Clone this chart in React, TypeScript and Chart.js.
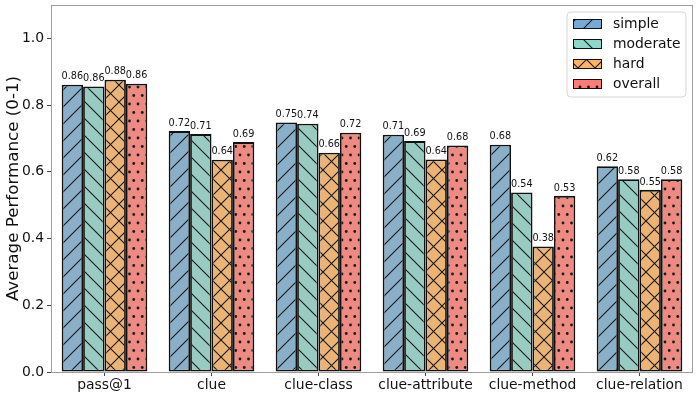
import React, { useEffect, useRef } from 'react';
import { Chart, registerables } from 'chart.js';

Chart.register(...registerables);

const categories = ['pass@1', 'clue', 'clue-class', 'clue-attribute', 'clue-method', 'clue-relation'];
const seriesNames = ['simple', 'moderate', 'hard', 'overall'];
const simple = [0.861, 0.722, 0.748, 0.711, 0.681, 0.617];
const moderate = [0.856, 0.713, 0.744, 0.692, 0.538, 0.578];
const hard = [0.876, 0.636, 0.657, 0.637, 0.376, 0.546];
const overall = [0.864, 0.689, 0.717, 0.679, 0.528, 0.578];
const yTickValues = [0, 0.2, 0.4, 0.6, 0.8, 1.0];

const barColors = ['#8aafc9', '#98cbc2', '#ecb474', '#ed8a82'];
const legendColors = ['#76aad6', '#8dd8cb', '#ffb366', '#ff7c75'];
const hatchKinds = ['/', '\\', 'x', '.'];

const FONT = 'DejaVu Sans';

function makePattern(color: string, kind: string): CanvasPattern | string {
  const s = 17;
  const c = document.createElement('canvas');
  c.width = s;
  c.height = s;
  const g = c.getContext('2d');
  if (!g) return color;
  g.fillStyle = color;
  g.fillRect(0, 0, s, s);
  g.strokeStyle = '#1a1a1a';
  g.fillStyle = '#1a1a1a';
  g.lineWidth = 1.1;
  const fwd = () => {
    g.beginPath();
    g.moveTo(-2, s + 2); g.lineTo(s + 2, -2);
    g.moveTo(-2, 2); g.lineTo(2, -2);
    g.moveTo(s - 2, s + 2); g.lineTo(s + 2, s - 2);
    g.stroke();
  };
  const back = () => {
    g.beginPath();
    g.moveTo(-2, -2); g.lineTo(s + 2, s + 2);
    g.moveTo(s - 2, -2); g.lineTo(s + 2, 2);
    g.moveTo(-2, s - 2); g.lineTo(2, s + 2);
    g.stroke();
  };
  if (kind === '/') fwd();
  else if (kind === '\\') back();
  else if (kind === 'x') { fwd(); back(); }
  else if (kind === '.') {
    const pts = [[2, 2], [10.5, 2], [6.25, 10.5], [14.75, 10.5]];
    for (const [x, y] of pts) {
      g.beginPath();
      g.arc(x, y, 1.4, 0, Math.PI * 2);
      g.fill();
    }
  }
  const p = g.createPattern(c, 'repeat');
  return p || color;
}

export default function App() {
  const ref = useRef<HTMLCanvasElement | null>(null);

  useEffect(() => {
    if (!ref.current) return;
    Chart.defaults.font.family = FONT;
    const seriesData = [simple, moderate, hard, overall];
    const barPatterns = barColors.map((c, i) => makePattern(c, hatchKinds[i]));
    const legendPatterns = legendColors.map((c, i) => makePattern(c, hatchKinds[i]));

    const framePlugin = {
      id: 'frame',
      afterDatasetsDraw(chart: any) {
        const { ctx, chartArea: a } = chart;
        ctx.save();
        ctx.strokeStyle = '#9e9e9e';
        ctx.lineWidth = 1;
        ctx.strokeRect(Math.round(a.left) + 0.5, Math.round(a.top) + 0.5, Math.round(a.right - a.left) - 1, Math.round(a.bottom - a.top));
        ctx.restore();
      },
    };

    const labelPlugin = {
      id: 'valueLabels',
      afterDatasetsDraw(chart: any) {
        const ctx = chart.ctx;
        ctx.save();
        ctx.font = `9.7px "${FONT}"`;
        ctx.fillStyle = '#111';
        ctx.textAlign = 'center';
        ctx.textBaseline = 'bottom';
        chart.data.datasets.forEach((ds: any, di: number) => {
          const meta = chart.getDatasetMeta(di);
          meta.data.forEach((el: any, i: number) => {
            ctx.fillText(Number(ds.data[i]).toFixed(2), el.x, el.y - 3);
          });
        });
        ctx.restore();
      },
    };

    const legendPlugin = {
      id: 'customLegend',
      afterDraw(chart: any) {
        const { ctx, chartArea: a } = chart;
        ctx.save();
        const w = 119, h = 85;
        const x0 = a.right - w - 7;
        const y0 = a.top + 7;
        const r = 4;
        ctx.beginPath();
        ctx.moveTo(x0 + r, y0);
        ctx.lineTo(x0 + w - r, y0);
        ctx.quadraticCurveTo(x0 + w, y0, x0 + w, y0 + r);
        ctx.lineTo(x0 + w, y0 + h - r);
        ctx.quadraticCurveTo(x0 + w, y0 + h, x0 + w - r, y0 + h);
        ctx.lineTo(x0 + r, y0 + h);
        ctx.quadraticCurveTo(x0, y0 + h, x0, y0 + h - r);
        ctx.lineTo(x0, y0 + r);
        ctx.quadraticCurveTo(x0, y0, x0 + r, y0);
        ctx.closePath();
        ctx.fillStyle = 'rgba(255,255,255,0.85)';
        ctx.fill();
        ctx.strokeStyle = '#d6d6d6';
        ctx.lineWidth = 1;
        ctx.stroke();
        seriesNames.forEach((name, i) => {
          const sy = y0 + 7 + i * 20;
          const sx = x0 + 6;
          ctx.fillStyle = legendPatterns[i] as any;
          ctx.fillRect(sx, sy, 29, 10);
          ctx.strokeStyle = '#111';
          ctx.lineWidth = 1;
          ctx.strokeRect(sx + 0.5, sy + 0.5, 28, 9);
          ctx.fillStyle = '#111';
          ctx.font = `13.9px "${FONT}"`;
          ctx.textAlign = 'left';
          ctx.textBaseline = 'middle';
          ctx.fillText(name, sx + 40, sy + 5);
        });
        ctx.restore();
      },
    };

    const chart = new Chart(ref.current, {
      type: 'bar',
      data: {
        labels: categories,
        datasets: seriesNames.map((name, i) => ({
          label: name,
          data: seriesData[i],
          backgroundColor: barPatterns[i] as any,
          borderColor: '#111',
          borderWidth: 1.8,
          borderSkipped: false,
          categoryPercentage: 0.8,
          barPercentage: 1.0,
        })),
      },
      options: {
        responsive: false,
        animation: false,
        devicePixelRatio: 1,
        layout: { padding: { top: 5, right: 5, left: 0, bottom: 0 } },
        plugins: {
          legend: { display: false },
          tooltip: { enabled: false },
        },
        scales: {
          x: {
            offset: true,
            border: { display: false },
            grid: {
              display: true,
              drawOnChartArea: false,
              drawTicks: true,
              tickLength: 4,
              tickColor: '#444',
              offset: false,
            },
            ticks: {
              color: '#111',
              font: { size: 13.9, family: FONT },
              padding: 1,
              maxRotation: 0,
              autoSkip: false,
            },
            afterFit: (scale: any) => {
              scale.height = 24;
              scale.paddingLeft = 0;
              scale.paddingRight = 0;
            },
          },
          y: {
            min: 0,
            max: 1.1,
            border: { display: false },
            grid: {
              display: true,
              drawOnChartArea: false,
              drawTicks: true,
              tickLength: 4,
              tickColor: '#444',
            },
            afterBuildTicks: (scale: any) => {
              scale.ticks = yTickValues.map((v) => ({ value: v }));
            },
            ticks: {
              color: '#111',
              font: { size: 13.9, family: FONT },
              padding: 3,
              callback: (v: any) => Number(v).toFixed(1),
            },
            title: {
              display: true,
              text: 'Average Performance (0-1)',
              color: '#111',
              font: { size: 16.7, family: FONT },
              padding: { top: 4, bottom: 0 },
            },
            afterFit: (scale: any) => {
              scale.width = 51;
              scale.paddingTop = 0;
              scale.paddingBottom = 0;
            },
          },
        },
      },
      plugins: [framePlugin, labelPlugin, legendPlugin],
    });
    return () => chart.destroy();
  }, []);

  return (
    <div style={{ position: 'fixed', left: 0, top: 0, width: 698, height: 396, background: '#fff' }}>
      <canvas ref={ref} width={698} height={396} style={{ width: 698, height: 396, display: 'block' }} />
    </div>
  );
}
